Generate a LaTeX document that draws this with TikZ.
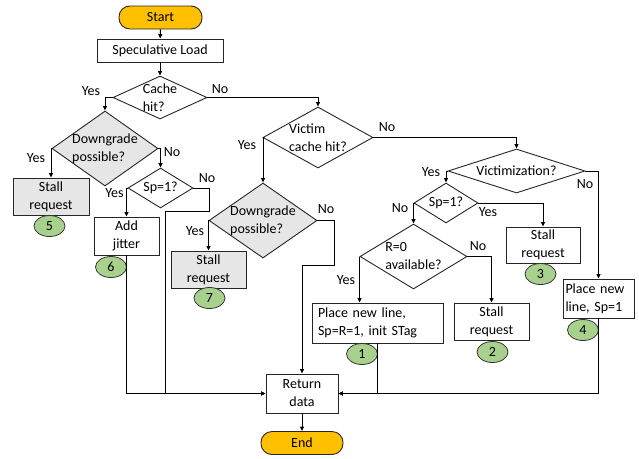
\documentclass[tikz,border=0pt]{standalone}
\usepackage{fontspec}
\setmainfont{Carlito}
\usetikzlibrary{shapes.geometric,arrows.meta}

\definecolor{termorange}{HTML}{FFC000}
\definecolor{boxgray}{HTML}{E7E6E6}
\definecolor{markgreen}{HTML}{A9D18E}

\begin{document}
\begin{tikzpicture}[
    x=1pt, y=-1pt,
    >={Triangle[length=4.5pt,width=4pt]},
    every node/.style={font=\fontsize{14}{18}\selectfont},
    procbox/.style={
        draw=black!85,
        line width=0.9pt,
        align=center,
        inner sep=0pt,
        fill=white
    },
    graybox/.style={procbox, fill=boxgray},
    decision/.style={
        diamond,
        draw=black!85,
        line width=0.9pt,
        align=left,
        inner sep=-40pt,
        fill=white
    },
    graydecision/.style={decision, fill=boxgray},
    terminal/.style={
        draw=black!85,
        line width=0.9pt,
        rounded corners=11pt,
        fill=termorange,
        minimum height=23pt,
        inner sep=0pt
    },
    marker/.style={
        ellipse,
        draw=black!80,
        line width=0.8pt,
        fill=markgreen,
        minimum width=31pt,
        minimum height=21pt,
        inner sep=0pt
    },
    lbl/.style={inner sep=0pt},
    arr/.style={->, line width=1pt}
]
    \useasboundingbox (0,0) rectangle (639,458);

    % Start and first checks
    \node[terminal, minimum width=83pt] (start) at (160.5,17.5) {Start};
    \node[procbox, minimum width=126pt, minimum height=23pt] (load) at (160,50.5)
        {Speculative Load};
    \node[decision, minimum width=94pt, minimum height=43pt] (hit) at (160,97.5)
        {Cache\\hit?};

    % Cache hit branch
    \node[graydecision, minimum width=106pt, minimum height=75pt] (dg1) at (105,148.5)
        {Downgrade\\possible?};
    \node[graybox, minimum width=76pt, minimum height=37pt] (stall5) at (51,196.5)
        {Stall\\request};
    \node[marker] (c5) at (49.5,226) {5};
    \node[decision, minimum width=65pt, minimum height=40pt] (sp1a) at (160.5,188)
        {Sp=1?};
    \node[procbox, minimum width=65pt, minimum height=38pt] (jitter) at (126.5,236)
        {Add\\jitter};
    \node[marker] (c6) at (111,267) {6};

    % Victim cache branch
    \node[decision, minimum width=110pt, minimum height=61pt] (victim) at (318,137.5)
        {Victim\\cache hit?};
    \node[graydecision, minimum width=108pt, minimum height=75pt] (dg2) at (263,220.5)
        {Downgrade\\possible?};
    \node[graybox, minimum width=75pt, minimum height=37pt] (stall7) at (208.5,269.5)
        {Stall\\request};
    \node[marker] (c7) at (209.5,298) {7};

    % Victimization branch
    \node[decision, minimum width=137pt, minimum height=44pt] (vict) at (516.5,171)
        {Victimization?};
    \node[decision, minimum width=64pt, minimum height=40pt] (sp1b) at (446,203)
        {Sp=1?};
    \node[procbox, minimum width=74pt, minimum height=36pt] (stall3) at (543,245)
        {Stall\\request};
    \node[marker] (c3) at (540.5,274) {3};
    \node[procbox, text width=66pt, align=left, inner xsep=2.5pt,
        minimum height=39pt] (place4) at (598.5,298.5)
        {Place new\\line, Sp=1};
    \node[marker] (c4) at (583,330) {4};
    \node[decision, minimum width=107pt, minimum height=65pt] (r0) at (413.5,256.5)
        {R=0\\available?};
    \node[procbox, text width=119pt, align=left, inner xsep=6pt,
        minimum height=40pt] (place1) at (377.5,323)
        {Place new line,\\Sp=R=1, init STag};
    \node[marker] (c1) at (362,354) {1};
    \node[procbox, minimum width=75pt, minimum height=37pt] (stall2) at (491.5,321.5)
        {Stall\\request};
    \node[marker] (c2) at (492.5,352) {2};

    % End
    \node[procbox, minimum width=72pt, minimum height=39pt] (ret) at (302,393.5)
        {Return\\data};
    \node[terminal, minimum width=82pt] (end) at (302,443) {End};

    % Arrows
    \draw[arr] (start) -- (load);
    \draw[arr] (load) -- (hit);
    \draw[arr] (hit.west) -| (dg1.north);
    \draw[arr] (hit.east) -| (victim.north);
    \draw[arr] (dg1.west) -| (stall5.north);
    \draw[arr] (dg1.east) -| (sp1a.north);
    \draw[arr] (sp1a.west) -| (jitter.north);
    \draw[arr] (victim.west) -| (dg2.north);
    \draw[arr] (victim.east) -| (vict.north);
    \draw[arr] (dg2.west) -| (stall7.north);
    \draw[arr] (vict.west) -| (sp1b.north);
    \draw[arr] (vict.east) -| (place4.north);
    \draw[arr] (sp1b.west) -| (r0.north);
    \draw[arr] (sp1b.east) -| (stall3.north);
    \draw[arr] (r0.west) -- (r0.west |- place1.north);
    \draw[arr] (r0.east) -| (stall2.north);

    % Return lines
    \draw[arr] (jitter.south) |- (ret.west);
    \draw[arr] (sp1a.east) -- ++(16,0) -- ++(0,23) -- ++(-44,0) |- (ret.west);
    \draw[arr] (dg2.east) -- ++(17,0) -- ++(0,45) -| (ret.north);
    \draw[arr] (place1.south) |- (ret.east);
    \draw[arr] (place4.south) |- (ret.east);
    \draw[arr] (ret) -- (end);

    % Yes / No labels
    \node[lbl] (yes1) at (91,91) {Yes};
    \node[lbl] (no1) at (220,89) {No};
    \node[lbl] (yes2) at (36,158) {Yes};
    \node[lbl] (no2) at (172,152) {No};
    \node[lbl] (yes3) at (114.5,193) {Yes};
    \node[lbl] (no3) at (207,178) {No};
    \node[lbl] (yes4) at (247,145) {Yes};
    \node[lbl] (no4) at (387,127) {No};
    \node[lbl] (yes5) at (195,231) {Yes};
    \node[lbl] (no5) at (326,209) {No};
    \node[lbl] (yes6) at (431,172) {Yes};
    \node[lbl] (no6) at (585,184) {No};
    \node[lbl] (no7) at (400,208) {No};
    \node[lbl] (yes7) at (488,212) {Yes};
    \node[lbl] (yes8) at (346,280) {Yes};
    \node[lbl] (no8) at (478,246) {No};

\end{tikzpicture}
\end{document}
